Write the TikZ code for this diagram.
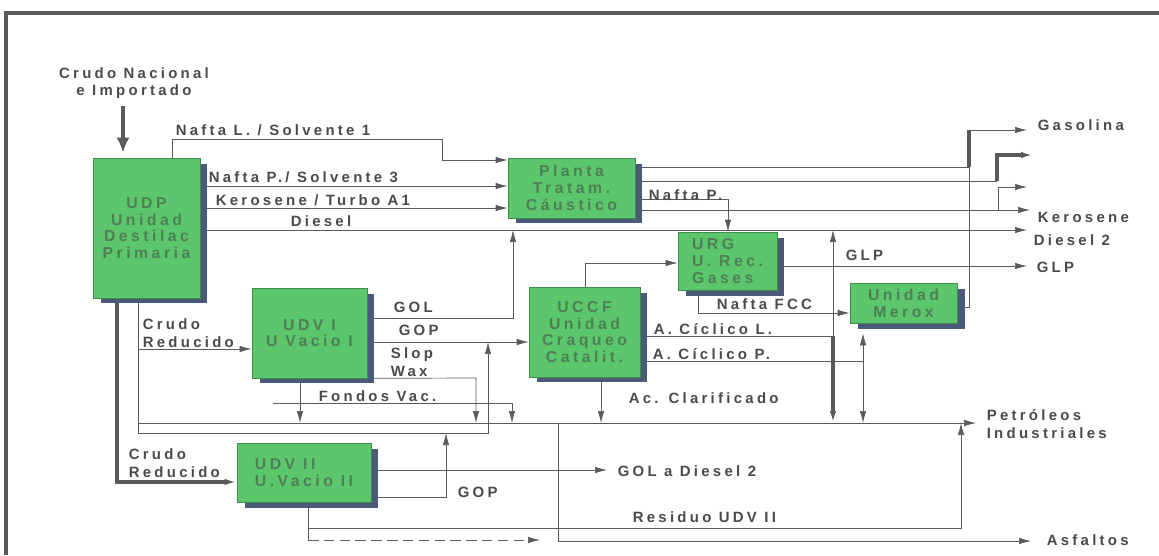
\documentclass[tikz,border=0pt]{standalone}
\usepackage{fontspec}
\setmainfont{Liberation Sans}[LetterSpace=22]
\usetikzlibrary{arrows.meta, shadows, backgrounds}
\definecolor{cgreen}{HTML}{5CC66C}
\definecolor{cshadow}{HTML}{4A5A78}
\definecolor{cline}{HTML}{5A5A5A}
\definecolor{ctext}{HTML}{4A4A4A}
\definecolor{cboxtext}{HTML}{4E8055}
\tikzset{
  every picture/.style={x=0.02cm, y=-0.02cm, line width=0.9pt},
  unit/.style={draw=cgreen!70!black, line width=0.4pt, fill=cgreen, align=center, inner sep=1pt,
    text=cboxtext, font=\fontsize{9}{9.5}\selectfont\bfseries,
    drop shadow={shadow xshift=0.15cm, shadow yshift=-0.11cm, fill=cshadow, opacity=1}},
  flow/.style={draw=cline},
  arrow/.style={flow, -{Latex[length=2.4mm, width=1.3mm]}},
  twoway/.style={flow, {Latex[length=2.4mm, width=1.3mm]}-{Latex[length=2.4mm, width=1.3mm]}},
  heavy/.style={line width=1.8pt},
  lbl/.style={text=ctext, font=\fontsize{8.5}{10}\selectfont\bfseries, anchor=west, inner sep=0pt, align=left},
}

\begin{document}
\begin{tikzpicture}
  \useasboundingbox (0,0) rectangle (1159,555);
  \draw[flow, line width=1.8pt] (6,555) -- (6,13) -- (1159,13);

  % process units
  \node[unit, minimum width=2.14cm, minimum height=2.8cm] (udp) at (146.5,228) {UDP\\Unidad\\Destilac\\Primaria};
  \node[unit, minimum width=2.54cm, minimum height=1.2cm] (planta) at (571.5,188) {Planta\\Tratam.\\Cáustico};
  \node[unit, minimum width=1.98cm, minimum height=1.16cm, align=left] (urg) at (727.5,261) {URG\\U. Rec.\\Gases};
  \node[unit, minimum width=2.14cm, minimum height=0.8cm] (merox) at (903.5,303) {Unidad\\Merox};
  \node[unit, minimum width=2.3cm, minimum height=1.8cm] (udv1) at (309.5,333) {UDV I\\U Vacio I};
  \node[unit, minimum width=2.22cm, minimum height=1.8cm] (uccf) at (584.5,332) {UCCF\\Unidad\\Craqueo\\Catalit.};
  \node[unit, minimum width=2.68cm, minimum height=1.18cm, align=left] (udv2) at (304,472.5) {UDV II\\U.Vacio II};

  % products
  \coordinate (gasolina) at (1027,130);
  \coordinate (out2) at (1033,155);
  \coordinate (out3) at (1027,187);
  \coordinate (kerosene) at (1030,210);
  \coordinate (diesel2) at (1027,230);
  \coordinate (glp) at (1027,266);
  \coordinate (petroleos) at (976,423);
  \coordinate (asfaltos) at (1031,541);
  \node[lbl] (gasolinatxt) at (1037,125) {Gasolina};
  \node[lbl] (kerosenetxt) at (1037,217) {Kerosene};
  \node[lbl] (diesel2txt) at (1033,240) {Diesel 2};
  \node[lbl] (glptxt) at (1036,267) {GLP};
  \node[lbl] (petroleostxt) at (986,424) {Petróleos\\Industriales};
  \node[lbl] (asfaltostxt) at (1046,540) {Asfaltos};

  % junctions
  \coordinate (crudoin) at (123,106);
  \coordinate (nl1) at (172,139);
  \coordinate (nl2) at (442,139);
  \coordinate (j1) at (969,167);
  \coordinate (j2) at (997,181);
  \coordinate (j3) at (998,210);
  \coordinate (gol) at (513,318);
  \coordinate (slop) at (476,378);
  \coordinate (fondo) at (300,423);
  \coordinate (fv1) at (273,403);
  \coordinate (fv2) at (512,403);
  \coordinate (cr1) at (138,349);
  \coordinate (hdr1) at (138,423);
  \coordinate (hdr2) at (138,433);
  \coordinate (hdr2up) at (488,433);
  \coordinate (cr2) at (117,482);
  \coordinate (goldiesel) at (607,470);
  \coordinate (gop2) at (446,497);
  \coordinate (res0) at (308,540);
  \coordinate (res1) at (308,528);
  \coordinate (res2) at (961,528);
  \coordinate (resout) at (540,540);
  \coordinate (asf) at (558,423);
  \coordinate (fcc1) at (585,263);
  \coordinate (nfcc) at (698,313);
  \coordinate (acl) at (833,336);
  \coordinate (acp) at (863,361);
  \coordinate (clar) at (601,423);

  \begin{scope}[on background layer]
    \draw[flow, line width=2.6pt, -{Latex[length=3mm, width=2.6mm]}, shorten >=0.1cm] (crudoin) -- (crudoin |- udp.north);
    % UDP
    \draw[arrow] (udp.north -| nl1) -- (nl1) -- (nl2) -- (nl2 |- 0,160) -- (planta.west |- 0,160);
    \draw[arrow] (udp.east |- 0,186) -- (planta.west |- 0,186);
    \draw[arrow] (udp.east |- 0,208) -- (planta.west |- 0,208);
    \draw[arrow] (udp.east |- diesel2) -- (diesel2);
    \draw[flow] (udp.south -| cr1) -- (hdr2);
    \draw[arrow] (cr1) -- (udv1.west |- cr1);
    \draw[arrow, heavy] (udp.south -| cr2) -- (cr2) -- (udv2.west |- cr2);
    % Planta
    \draw[flow] (planta.east |- j1) -- (j1);
    \draw[flow, heavy] (j1) -- (j1 |- gasolina);
    \draw[arrow] (j1 |- gasolina) -- (gasolina);
    \draw[flow] (planta.east |- j2) -- (j2);
    \draw[arrow, heavy] (j2) -- (j2 |- out2) -- (out2);
    \draw[arrow] (planta.east |- kerosene) -- (kerosene);
    \draw[arrow] (j3) -- (j3 |- out3) -- (out3);
    \draw[arrow] (planta.east |- 0,199) -- (728,199) -- (urg.north -| 728,0);
    \draw[flow] (merox.east |- 0,307) -- (j1 |- 0,307) -- (j1);
    % UDV I
    \draw[arrow] (udv1.east |- gol) -- (gol) -- (gol |- diesel2);
    \draw[arrow] (udv1.east |- 0,342) -- (uccf.west |- 0,342);
    \draw[arrow] (udv1.south east) -- (slop) -- (slop |- petroleos);
    \draw[arrow] (udv1.south -| fondo) -- (fondo);
    \draw[arrow] (fv1) -- (fv2) -- (fv2 |- petroleos);
    \draw[arrow] (hdr1) -- (petroleos);
    \draw[arrow] (hdr2) -- (hdr2up) -- (hdr2up |- 0,342);
    % UDV II
    \draw[arrow] (udv2.east |- goldiesel) -- (goldiesel);
    \draw[arrow] (udv2.east |- gop2) -- (gop2) -- (gop2 |- hdr2);
    \draw[flow] (udv2.south -| res1) -- (res0);
    \draw[arrow, dash pattern=on 6pt off 3pt] (res0) -- (resout);
    \draw[arrow] (res1) -- (res2) -- (res2 |- petroleos);
    \draw[arrow] (asf) -- (asf |- asfaltos) -- (asfaltos);
    % UCCF, URG
    \draw[arrow] (uccf.north -| fcc1) -- (fcc1) -- (urg.west |- fcc1);
    \draw[arrow] (urg.east |- glp) -- (glp);
    \draw[arrow] (urg.south -| nfcc) -- (nfcc) -- (merox.west |- nfcc);
    \draw[flow] (uccf.east |- acl) -- (acl);
    \draw[arrow] (acl) -- (acl |- diesel2);
    \draw[arrow, heavy] (acl) -- (acl |- petroleos);
    \draw[flow] (uccf.east |- acp) -- (acp);
    \draw[twoway, shorten >=0.2cm] (acp |- petroleos) -- (merox.south -| acp);
    \draw[arrow] (uccf.south -| clar) -- (clar);
  \end{scope}

  % stream labels
  \node[lbl, anchor=center, align=center] (crudo) at (134,83) {Crudo Nacional\\e Importado};
  \node[lbl] (naftal) at (175,130) {Nafta L. / Solvente 1};
  \node[lbl] (naftap) at (208,177) {Nafta P./ Solvente 3};
  \node[lbl] (kero) at (215,200) {Kerosene / Turbo A1};
  \node[lbl] (diesel) at (290,221) {Diesel};
  \node[lbl] (naftapout) at (648,195) {Nafta P.};
  \node[lbl] (gollbl) at (393,307) {GOL};
  \node[lbl] (goplbl) at (398,330) {GOP};
  \node[lbl] (slopwax) at (390,362) {Slop\\Wax};
  \node[lbl] (fondos) at (318,396) {Fondos Vac.};
  \node[lbl] (crudored1) at (142,333) {Crudo\\Reducido};
  \node[lbl] (crudored2) at (128,463) {Crudo\\Reducido};
  \node[lbl] (goldieseltxt) at (617,471) {GOL a Diesel 2};
  \node[lbl] (gop2lbl) at (457,492) {GOP};
  \node[lbl] (residuo) at (632,517) {Residuo UDV II};
  \node[lbl] (clarif) at (628,398) {Ac. Clarificado};
  \node[lbl] (ciclicol) at (653,329) {A. Cíclico L.};
  \node[lbl] (ciclicop) at (652,354) {A. Cíclico P.};
  \node[lbl] (naftafcc) at (716,304) {Nafta FCC};
  \node[lbl] (glplbl) at (845,255) {GLP};
\end{tikzpicture}
\end{document}
